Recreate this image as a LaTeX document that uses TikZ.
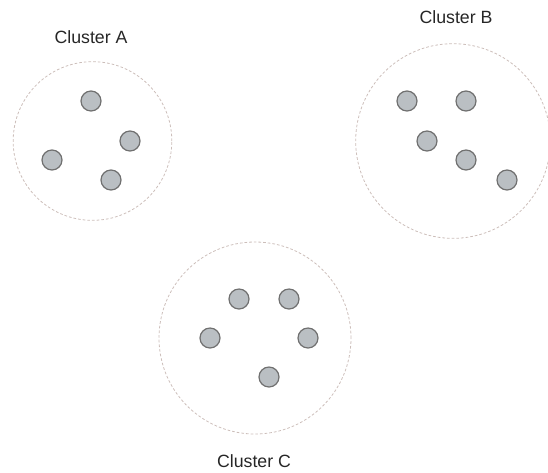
\documentclass[tikz,border=0pt]{standalone}
\usepackage{fontspec}
\setmainfont{Liberation Sans}
\usepackage{xcolor}
\usepackage{tikz}
\tikzset{every picture/.style={line width=0.75pt}}
\definecolor{dotfill}{RGB}{186,191,195}
\definecolor{dotline}{RGB}{112,112,112}
\definecolor{ringline}{RGB}{204,190,186}

\begin{document}
\begin{tikzpicture}[x=0.75pt,y=0.75pt,yscale=-1,xscale=1,
    member/.style={circle,draw=dotline,fill=dotfill,line width=0.9pt,minimum size=15pt,inner sep=0pt},
    ring/.style={circle,draw=ringline,dash pattern={on 2pt off 1.5pt},line width=0.6pt,inner sep=0pt},
    clabel/.style={inner sep=0.75pt,text=black!85,font=\fontsize{13.3}{16}\selectfont}]
    \useasboundingbox (0,0) rectangle (548,472);
    % Cluster A
    \node [ring,minimum size=119pt] (ringA) at (92.5,141) {};
    \node [member] (a1) at (91,101) {};
    \node [member] (a2) at (130,141) {};
    \node [member] (a3) at (52,160) {};
    \node [member] (a4) at (111,180) {};
    \node [clabel] (labA) at (91,37) {Cluster A};
    % Cluster B
    \node [ring,minimum size=146pt] (ringB) at (453,141) {};
    \node [member] (b1) at (407,101) {};
    \node [member] (b2) at (466,101) {};
    \node [member] (b3) at (427,141) {};
    \node [member] (b4) at (466,160) {};
    \node [member] (b5) at (507,180) {};
    \node [clabel] (labB) at (456,17) {Cluster B};
    % Cluster C
    \node [ring,minimum size=144pt] (ringC) at (255,338) {};
    \node [member] (c1) at (239,299) {};
    \node [member] (c2) at (289,299) {};
    \node [member] (c3) at (210,338) {};
    \node [member] (c4) at (308,338) {};
    \node [member] (c5) at (269,377) {};
    \node [clabel] (labC) at (254,461) {Cluster C};
\end{tikzpicture}
\end{document}
